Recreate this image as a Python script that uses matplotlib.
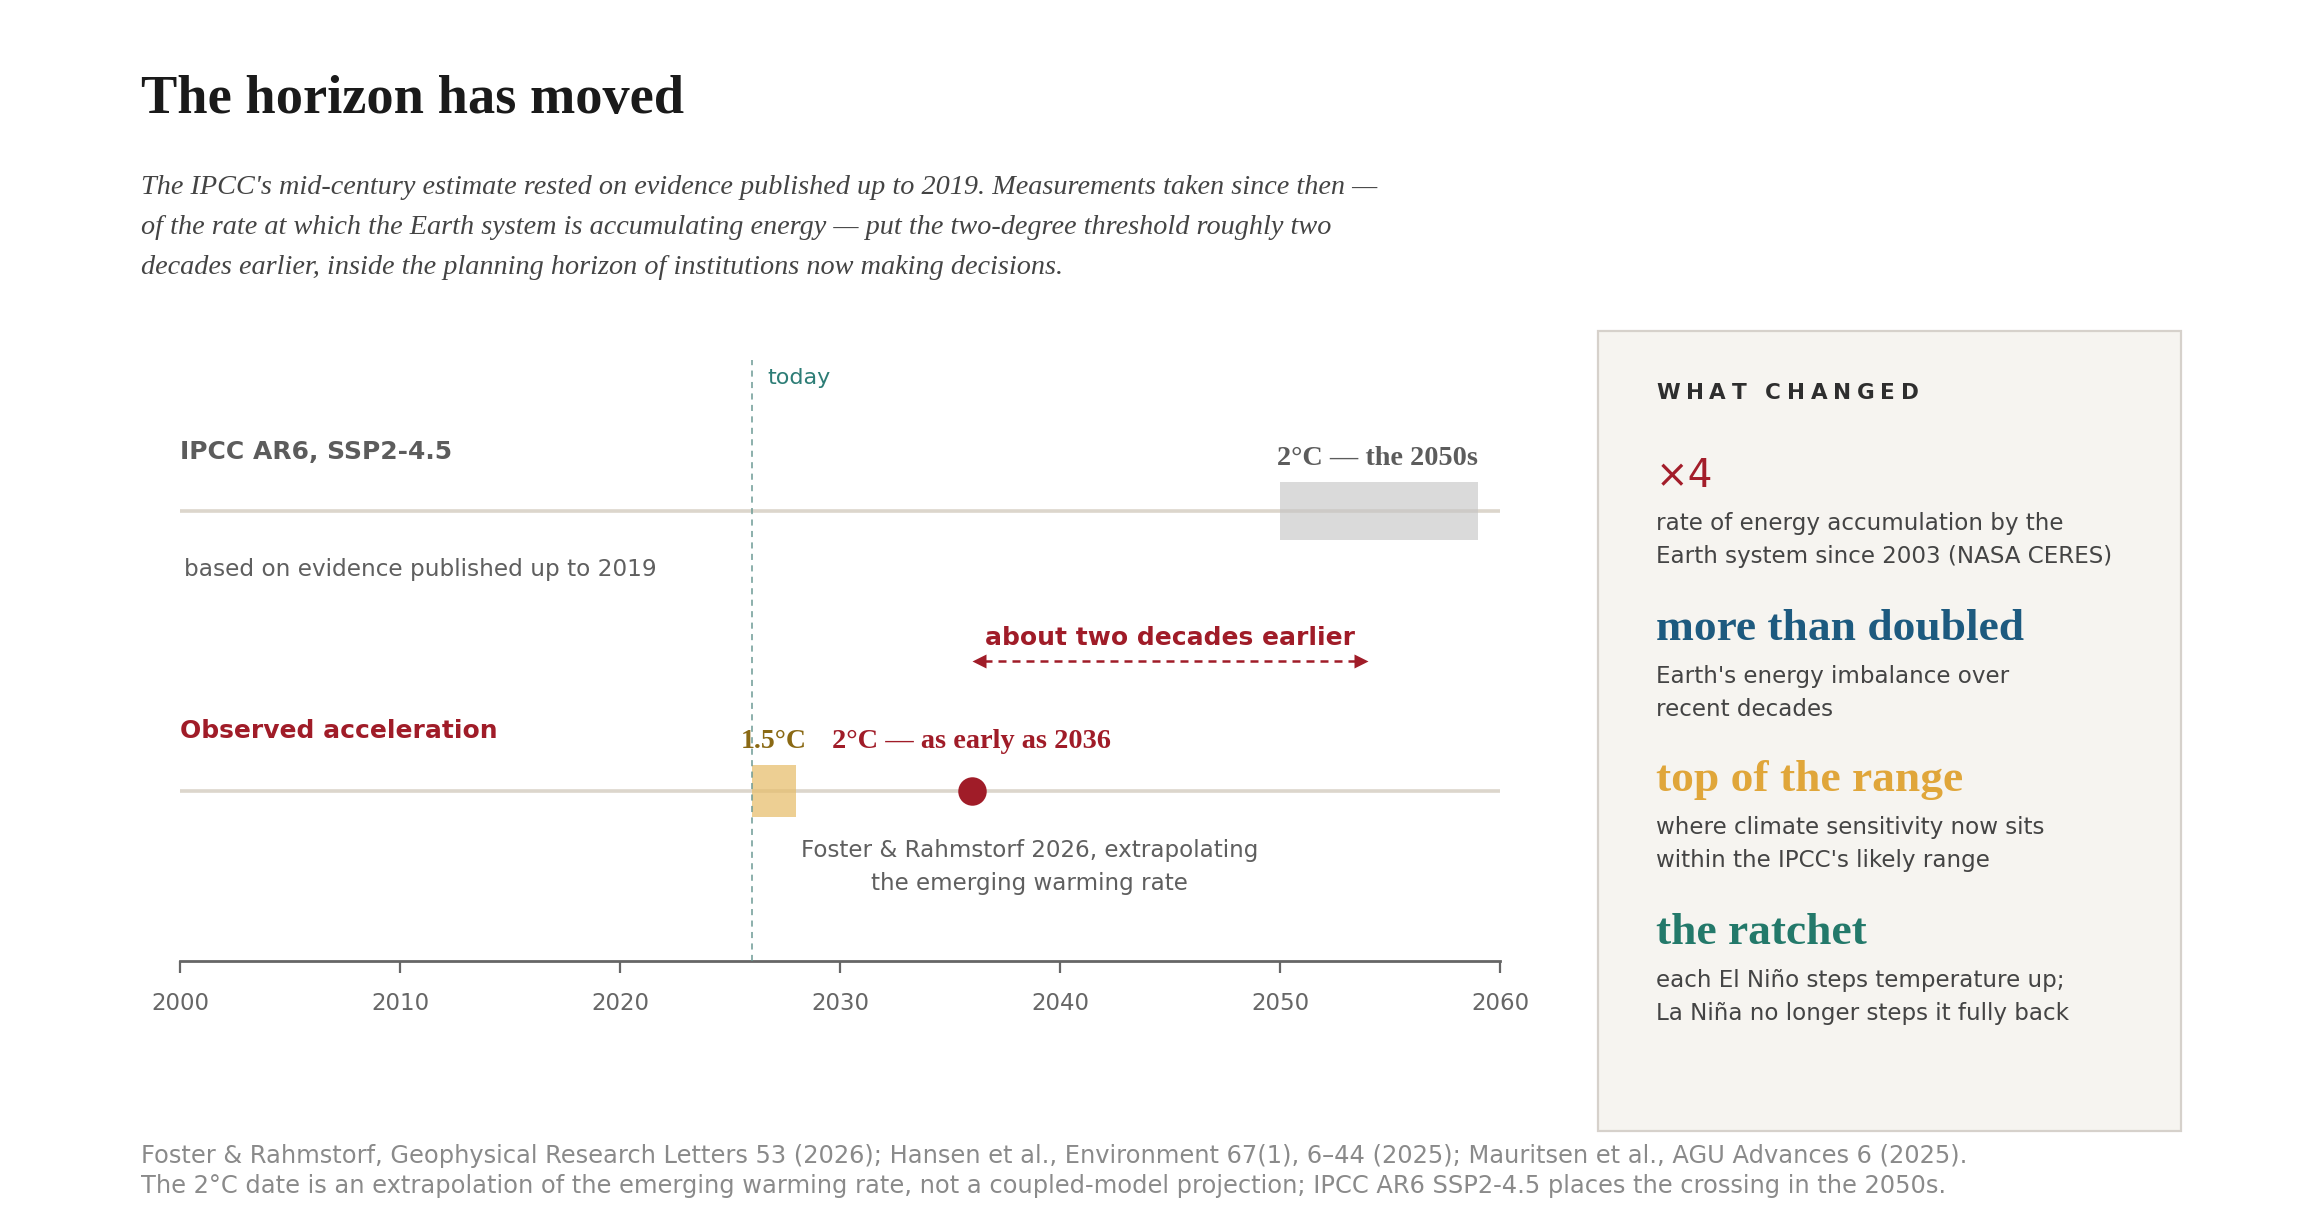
import matplotlib
matplotlib.use("Agg")
import matplotlib.pyplot as plt
from matplotlib.patches import Rectangle

W, H, DPI = 2320, 1220, 100

# ---------------- data ----------------
x_range = [2000, 2060]
tick_years = [2000, 2010, 2020, 2030, 2040, 2050, 2060]
today_year = 2026
today_label = "today"

row_labels = ["Observed acceleration", "IPCC AR6, SSP2-4.5"]   # row 0, row 1
ipcc_note = "based on evidence published up to 2019"
ipcc_2c_span = [2050, 2059]
ipcc_2c_label = "2°C — the 2050s"

obs_15_span = [2026, 2028]
obs_15_label = "1.5°C"
obs_2c_year = 2036
obs_2c_label = "2°C — as early as 2036"
obs_note = ["Foster & Rahmstorf 2026, extrapolating", "the emerging warming rate"]

shift_span = [2036, 2054]
shift_label = "about two decades earlier"

title = "The horizon has moved"
subtitle = [
    "The IPCC's mid-century estimate rested on evidence published up to 2019. Measurements taken since then —",
    "of the rate at which the Earth system is accumulating energy — put the two-degree threshold roughly two",
    "decades earlier, inside the planning horizon of institutions now making decisions.",
]

side_title = "WHAT CHANGED"
side_heads = ["×4", "more than doubled", "top of the range", "the ratchet"]
side_texts = [
    ["rate of energy accumulation by the", "Earth system since 2003 (NASA CERES)"],
    ["Earth's energy imbalance over", "recent decades"],
    ["where climate sensitivity now sits", "within the IPCC's likely range"],
    ["each El Niño steps temperature up;", "La Niña no longer steps it fully back"],
]
side_colors = ["#a31d2a", "#1d5a7f", "#e0a63a", "#23796a"]

footer = [
    "Foster & Rahmstorf, Geophysical Research Letters 53 (2026); Hansen et al., Environment 67(1), 6–44 (2025); Mauritsen et al., AGU Advances 6 (2025).",
    "The 2°C date is an extrapolation of the emerging warming rate, not a coupled-model projection; IPCC AR6 SSP2-4.5 places the crossing in the 2050s.",
]

# ---------------- style ----------------
SERIF = ["Liberation Serif", "DejaVu Serif"]
SANS = ["DejaVu Sans"]
RED = "#a01c28"
GRAY = "#5c5c5c"
LIGHT = "#dcd6cc"

def fx(px):
    return px / W

def fy(py):
    return 1 - py / H

fig = plt.figure(figsize=(W / DPI, H / DPI), dpi=DPI)
fig.patch.set_facecolor("white")

# ---------------- header ----------------
fig.text(fx(141), fy(113), title, family=SERIF, weight="bold", size=39.2,
         color="#1a1a1a", va="baseline", ha="left")
for i, line in enumerate(subtitle):
    fig.text(fx(141), fy(194 + 40 * i), line, family=SERIF, style="italic",
             size=20.3, color="#444444", va="baseline", ha="left")

# ---------------- timeline axes ----------------
AX_L, AX_R, AX_T, AX_B = 180, 1500, 340, 961
ax = fig.add_axes([fx(AX_L), fy(AX_B), (AX_R - AX_L) / W, (AX_B - AX_T) / H])
ROW_PX = 280.0
ROW0_PX = 791
ROW1_PX = ROW0_PX - ROW_PX
ax.set_xlim(*x_range)
ax.set_ylim(-(AX_B - ROW0_PX) / ROW_PX, 1 + (ROW1_PX - AX_T) / ROW_PX)
ax.patch.set_visible(False)
for s in ["top", "right", "left"]:
    ax.spines[s].set_visible(False)
ax.spines["bottom"].set_color("#666666")
ax.spines["bottom"].set_linewidth(2.0)
ax.set_yticks([])
ax.set_xticks(tick_years)
ax.set_xticklabels([str(y) for y in tick_years], family=SANS, size=16.5, color="#666666")
ax.tick_params(axis="x", length=8.5, width=1.6, color="#666666", pad=13.5, direction="out")

def y0(py):
    """data y for a pixel row, measured from the observed row"""
    return (ROW0_PX - py) / ROW_PX

# row lines
ax.hlines([0, 1], x_range[0], x_range[1], color=LIGHT, lw=2.6, zorder=1)

# IPCC range box
ax.add_patch(Rectangle((ipcc_2c_span[0], 1 - 29 / ROW_PX), ipcc_2c_span[1] - ipcc_2c_span[0], 58 / ROW_PX,
                       facecolor="#c4c4c4", alpha=0.62, lw=0, zorder=2))
# 1.5°C box
ax.add_patch(Rectangle((obs_15_span[0], 0 - 26 / ROW_PX), obs_15_span[1] - obs_15_span[0], 52 / ROW_PX,
                       facecolor="#e6bd6a", alpha=0.72, lw=0, zorder=2))
# today line
ax.vlines(today_year, ax.get_ylim()[0], y0(360), color="#6c9a94", lw=1.1,
          linestyles=(0, (4, 3.5)), zorder=3)
ax.text(today_year + 0.7, y0(384), today_label, family=SANS, size=16,
        color="#2d7d76", va="baseline", ha="left")
# 2°C dot
ax.plot([obs_2c_year], [0], "o", ms=20.5, color=RED, mec="none", zorder=4)

# shift arrow
ay = y0(661)
ax.plot([shift_span[0] + 0.55, shift_span[1] - 0.55], [ay, ay], color=RED, lw=1.8,
        ls=(0, (3.2, 2.4)), zorder=3)
ax.plot([shift_span[0] + 0.3], [ay], marker="<", ms=10, color=RED, mec="none", zorder=3)
ax.plot([shift_span[1] - 0.3], [ay], marker=">", ms=10, color=RED, mec="none", zorder=3)
ax.text(sum(shift_span) / 2, y0(645), shift_label, family=SANS, weight="bold",
        size=18, color=RED, ha="center", va="baseline")

# row labels and notes
ax.text(x_range[0], y0(459), row_labels[1], family=SANS, weight="bold", size=18,
        color=GRAY, ha="left", va="baseline")
ax.text(x_range[0] + 0.2, y0(576), ipcc_note, family=SANS, size=16.65,
        color="#5f5f5f", ha="left", va="baseline")
ax.text(ipcc_2c_span[1], y0(465), ipcc_2c_label, family=SERIF, weight="bold",
        size=20.3, color=GRAY, ha="right", va="baseline")
ax.text(x_range[0], y0(738), row_labels[0], family=SANS, weight="bold", size=18,
        color=RED, ha="left", va="baseline")
ax.text(sum(obs_15_span) / 2, y0(748), obs_15_label, family=SERIF, weight="bold",
        size=20, color="#8a6914", ha="center", va="baseline")
ax.text(obs_2c_year, y0(748), obs_2c_label, family=SERIF, weight="bold",
        size=20.4, color=RED, ha="center", va="baseline")
for i, line in enumerate(obs_note):
    ax.text(2038.6, y0(857 + 33 * i), line, family=SANS, size=16.6,
            color="#5f5f5f", ha="center", va="baseline")

# ---------------- side panel ----------------
PX0, PX1, PY0, PY1 = 1598, 2181, 331, 1131
fig.patches.append(Rectangle((fx(PX0), fy(PY1)), (PX1 - PX0) / W, (PY1 - PY0) / H,
                             transform=fig.transFigure, facecolor="#f6f4f0",
                             edgecolor="#d6d1cb", lw=1.6, zorder=0))

# letter-spaced panel title
renderer = fig.canvas.get_renderer()
x = 1656.0
size_pt = 15.5
for ch in side_title:
    if ch == " ":
        x += 0.33 * size_pt * DPI / 72 + 5.5
        continue
    t = fig.text(fx(x), fy(399), ch, family=SANS, weight="bold", size=size_pt,
                 color="#2e2e2e", va="baseline", ha="left")
    x += t.get_window_extent(renderer).width + 5.8

head_base = [487, 640, 791, 944]
for i, (head, lines, col) in enumerate(zip(side_heads, side_texts, side_colors)):
    if i == 0:
        fig.text(fx(1656), fy(head_base[i]), head, family=SANS, size=28, color=col,
                 va="baseline", ha="left")
    else:
        fig.text(fx(1656), fy(head_base[i]), head, family=SERIF, weight="bold", size=32.7,
                 color=col, va="baseline", ha="left")
    for j, line in enumerate(lines):
        fig.text(fx(1656), fy(head_base[i] + 43 + 33 * j), line, family=SANS, size=16.6,
                 color="#444444", va="baseline", ha="left")

# ---------------- footer ----------------
for i, line in enumerate(footer):
    fig.text(fx(141), fy(1163 + 30 * i), line, family=SANS, size=17.4, color="#8a8a8a",
             va="baseline", ha="left")

fig.savefig("out.png", dpi=DPI, facecolor="white")
